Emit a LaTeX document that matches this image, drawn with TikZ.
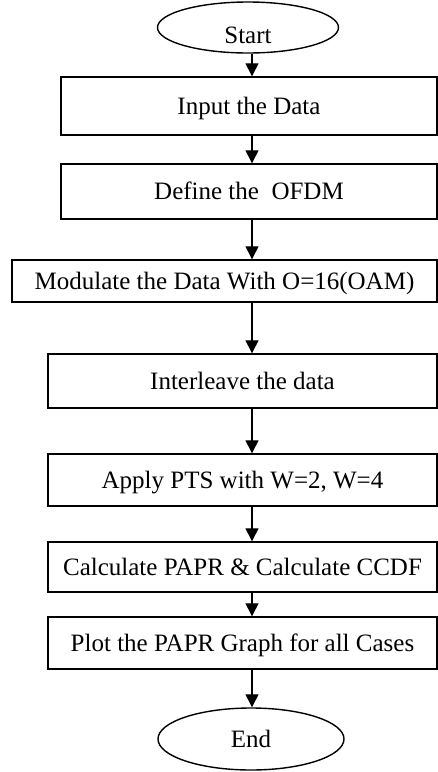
\documentclass[tikz,border=0pt]{standalone}
\usepackage{fontspec}
\setmainfont{Liberation Serif}
\usetikzlibrary{arrows.meta,shapes.geometric}

\begin{document}
\begin{tikzpicture}[x=1pt,y=-1pt,
	stepbox/.style={draw,line width=1.4pt,inner sep=0pt,text height=16.5pt,text depth=0pt,font=\fontsize{25}{30}\selectfont},
	termbox/.style={draw,ellipse,line width=1.4pt,inner sep=0pt,font=\fontsize{25}{30}\selectfont},
	flow/.style={line width=1.3pt,-{Triangle[width=13pt,length=13pt]}}]
	
	\useasboundingbox (0,0) rectangle (438,772);
	
	% Terminals
	\node[termbox,minimum width=181pt,minimum height=51pt,text height=32pt,text depth=0pt] (start) at (248,27.5) {Start};
	\node[termbox,minimum width=186pt,minimum height=62pt] (end) at (251,739) {End};
	
	% Steps
	\node[stepbox,minimum width=376pt,minimum height=58pt] (input) at (249,106) {Input the Data};
	\node[stepbox,minimum width=376pt,minimum height=55pt] (define) at (249,191.5) {Define the\ \ OFDM};
	\node[stepbox,minimum width=425pt,minimum height=42pt] (modulate) at (224.5,281) {Modulate the Data With O=16(OAM)};
	\node[stepbox,minimum width=389pt,minimum height=54pt] (interleave) at (242.5,381) {Interleave the data};
	\node[stepbox,minimum width=389pt,minimum height=52pt] (apply) at (242.5,480) {Apply PTS with W=2, W=4};
	\node[stepbox,minimum width=389pt,minimum height=50pt] (calc) at (242.5,567) {Calculate PAPR \& Calculate CCDF};
	\node[stepbox,minimum width=389pt,minimum height=52pt] (plot) at (242.5,643) {Plot the PAPR Graph for all Cases};
	
	% Arrows
	\coordinate (axis) at (252,0);
	\foreach \a/\b in {start/input, input/define, define/modulate, modulate/interleave, interleave/apply, apply/calc, calc/plot, plot/end} {
		\draw[flow] (\a.south -| axis) -- (\b.north -| axis);
	}
	
\end{tikzpicture}
\end{document}
